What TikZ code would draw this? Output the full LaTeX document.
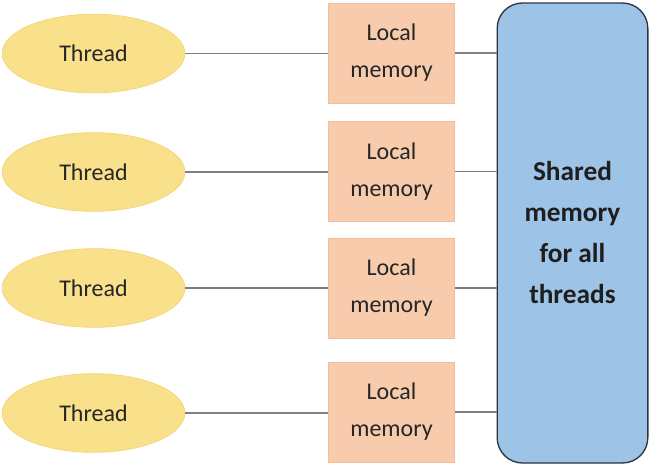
\documentclass[tikz,border=0pt]{standalone}
\usepackage{fontspec}
\setmainfont{Carlito}
\usetikzlibrary{shapes.geometric}
\definecolor{thfill}{HTML}{F9E08A}
\definecolor{thdraw}{HTML}{F3D77A}
\definecolor{lmfill}{HTML}{F8CBAD}
\definecolor{lmdraw}{HTML}{F2BE9A}
\definecolor{shfill}{HTML}{9DC3E6}
\definecolor{shdraw}{HTML}{2E3440}
\definecolor{conn}{HTML}{7F7F7F}
\definecolor{txt}{HTML}{262626}
\tikzset{
  threadnode/.style={ellipse, fill=thfill, draw=thdraw, line width=0.6pt,
    minimum width=137pt, minimum height=59pt, inner sep=0pt,
    font=\fontsize{18}{22}\selectfont, text=txt},
  localnode/.style={rectangle, fill=lmfill, draw=lmdraw, line width=0.6pt,
    minimum width=95pt, minimum height=75pt, inner sep=0pt, align=center,
    font=\fontsize{18}{27.75}\selectfont, text=txt},
  sharednode/.style={rectangle, rounded corners=19pt, fill=shfill, draw=shdraw, line width=1pt,
    minimum width=113pt, minimum height=345pt, inner sep=0pt, align=center,
    font=\bfseries\fontsize{20.5}{30.75}\selectfont, text=txt!80!black},
  link/.style={draw=conn, line width=1pt}
}
\begin{document}
\begin{tikzpicture}[x=0.75pt, y=-0.75pt]
\useasboundingbox (0,0) rectangle (662,465);
\node[sharednode] (s) at (572.5,233) {Shared\\memory\\for all\\threads};
\foreach \i/\ty/\ly in {1/53.5/53, 2/172/171.5, 3/288/288, 4/413/412} {
  \node[threadnode] (t\i) at (93.5,\ty) {Thread};
  \node[localnode] (l\i) at (391.5,\ly) {Local\\memory};
  \draw[link] (t\i.east) -- (t\i.east -| l\i.west);
  \draw[link] (l\i.east) -- (l\i.east -| s.west);
}
\end{tikzpicture}
\end{document}
